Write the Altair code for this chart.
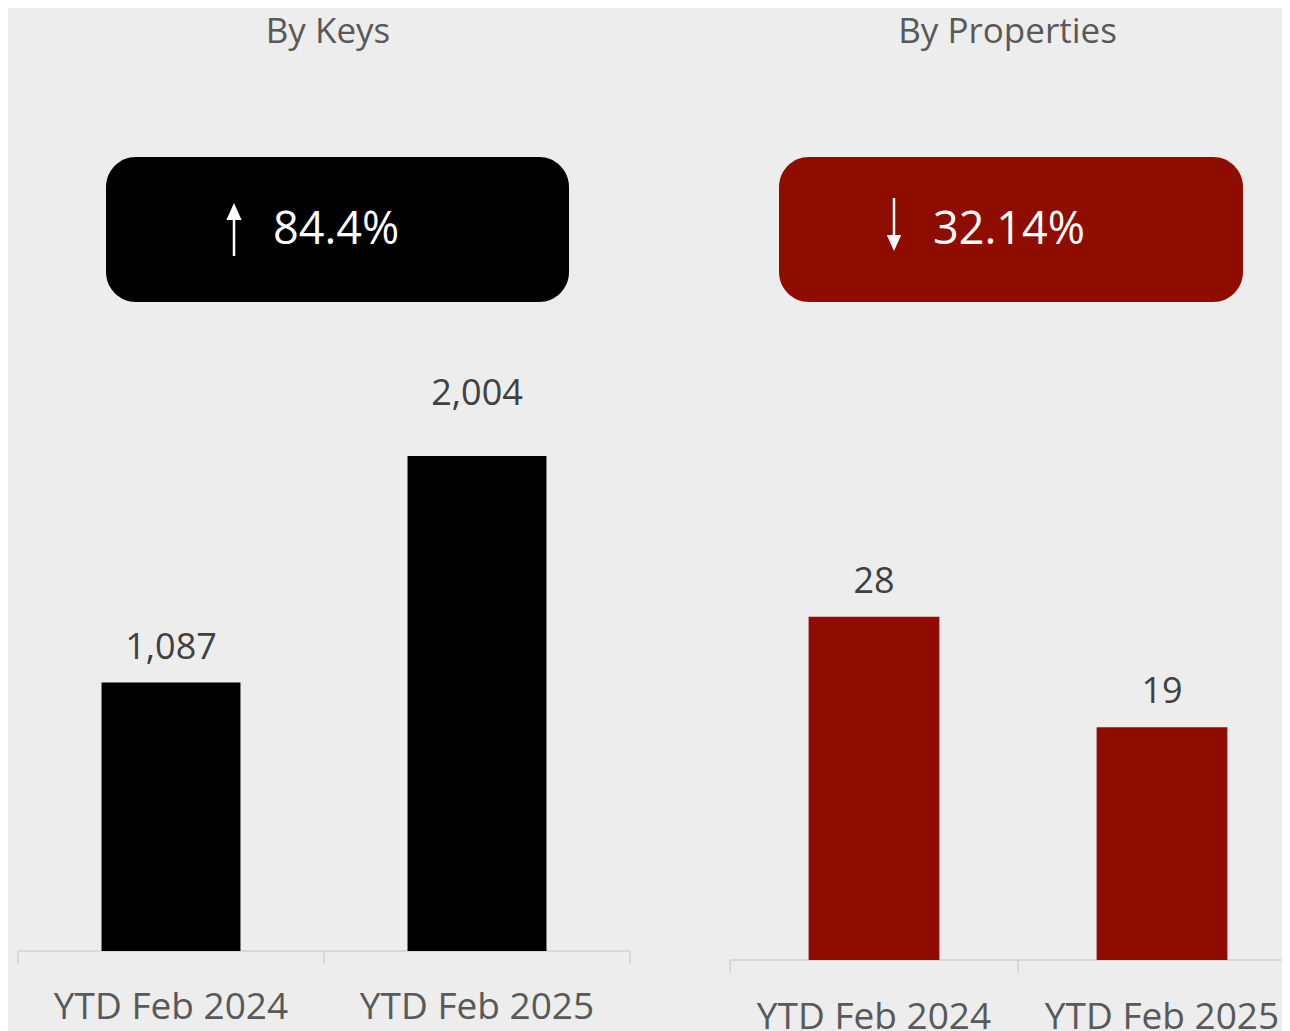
import altair as alt
import pandas as pd

# ---- data ----
categories = ["YTD Feb 2024", "YTD Feb 2025"]
keys_values = [1087, 2004]
property_values = [28, 19]
panel_titles = ["By Keys", "By Properties"]
change_labels = ["84.4%", "32.14%"]

FONT = "Open Sans"
RED = "#8f0c00"
BLACK = "#000000"
GRAY_TITLE = "#595959"
GRAY_VALUE = "#404040"
AXIS_GRAY = "#d2d2d2"
BG = "#ededed"

keys_df = pd.DataFrame({"cat": categories, "val": keys_values})
props_df = pd.DataFrame({"cat": categories, "val": property_values})


def panel(df, color, x_range, y_domain, y_range, base_y, half_pad, label_y, tick_len,
          raise_test=None):
    xscale = alt.Scale(domain=categories, range=x_range, paddingInner=0.546, paddingOuter=0.273)
    yscale = alt.Scale(domain=y_domain, range=y_range, nice=False, zero=True)
    x = alt.X("cat:N", scale=xscale, axis=None)
    y = alt.Y("val:Q", scale=yscale, axis=None)
    base = alt.Chart(df)
    bars = base.mark_bar(color=color).encode(x=x, y=y)
    enc = dict(x=x, y=y, text=alt.Text("val:Q", format=","))
    txt_style = dict(font=FONT, fontSize=36, color=GRAY_VALUE, baseline="alphabetic")
    if raise_test is not None:
        vals = alt.layer(
            base.mark_text(dy=-24, **txt_style).encode(**enc).transform_filter(~raise_test),
            base.mark_text(dy=-51, **txt_style).encode(**enc).transform_filter(raise_test),
        )
    else:
        vals = base.mark_text(dy=-24, **txt_style).encode(**enc)
    labels = base.mark_text(font=FONT, fontSize=37, color=GRAY_TITLE,
                            baseline="alphabetic").encode(
        x=x, y=alt.value(label_y), text="cat:N")
    ticks = base.mark_rule(color=AXIS_GRAY, strokeWidth=1.5, xOffset=-half_pad).encode(
        x=alt.X("cat:N", scale=xscale, axis=None, bandPosition=0),
        y=alt.value(base_y), y2=alt.value(base_y + tick_len))
    domain = alt.Chart().mark_rule(color=AXIS_GRAY, strokeWidth=1.5).encode(
        x=alt.value(x_range[0]), x2=alt.value(x_range[1]), y=alt.value(base_y))
    end_tick = alt.Chart().mark_rule(color=AXIS_GRAY, strokeWidth=1.5).encode(
        x=alt.value(x_range[1]), y=alt.value(base_y), y2=alt.value(base_y + tick_len))
    return alt.layer(domain, end_tick, ticks, bars, vals, labels)


left = panel(keys_df, BLACK, [10, 622], [0, 4000], [943, -45], 943, 83.5, 1011, 13,
             raise_test=alt.datum.val > 2000)
right = panel(props_df, RED, [722, 1298], [0, 80], [952, -28.4], 952, 78.5, 1021, 13)

# ---- decorations: titles, badges, arrows ----
def title(txt, xc):
    return alt.Chart().mark_text(font=FONT, fontSize=35, color=GRAY_TITLE,
                                 baseline="alphabetic").encode(
        x=alt.value(xc), y=alt.value(35), text=alt.value(txt))

def badge(color, x0, x1):
    return alt.Chart().mark_rect(color=color, cornerRadius=30).encode(
        x=alt.value(x0), x2=alt.value(x1), y=alt.value(149), y2=alt.value(294))

def badge_text(txt, x0):
    return alt.Chart().mark_text(font=FONT, fontSize=45, color="white",
                                 align="left", baseline="alphabetic").encode(
        x=alt.value(x0), y=alt.value(236), text=alt.value(txt))

up_line = alt.Chart().mark_rule(color="white", strokeWidth=2.5).encode(
    x=alt.value(226), y=alt.value(209), y2=alt.value(248))
up_head = alt.Chart().mark_point(shape="M0,-1L0.9,1L-0.9,1Z", filled=True, color="white",
                                 opacity=1, size=289, strokeWidth=0).encode(
    x=alt.value(226), y=alt.value(203.5))
down_line = alt.Chart().mark_rule(color="white", strokeWidth=2.5).encode(
    x=alt.value(886), y=alt.value(190), y2=alt.value(229))
down_head = alt.Chart().mark_point(shape="M0,1L0.9,-1L-0.9,-1Z", filled=True, color="white",
                                   opacity=1, size=256, strokeWidth=0).encode(
    x=alt.value(886), y=alt.value(235))

chart = alt.layer(
    title(panel_titles[0], 320),
    title(panel_titles[1], 999.5),
    badge(BLACK, 98, 561),
    badge(RED, 771, 1235),
    badge_text(change_labels[0], 265),
    badge_text(change_labels[1], 925),
    up_line, up_head, down_line, down_head,
    left,
    right,
).resolve_scale(x="independent", y="independent").properties(
    width=1274, height=1030,
    autosize=alt.AutoSizeParams(type="none"),
    padding=0,
    background=BG,
).configure_view(stroke=None)

chart.save("out.html", embed_options={"renderer": "svg", "actions": False})
